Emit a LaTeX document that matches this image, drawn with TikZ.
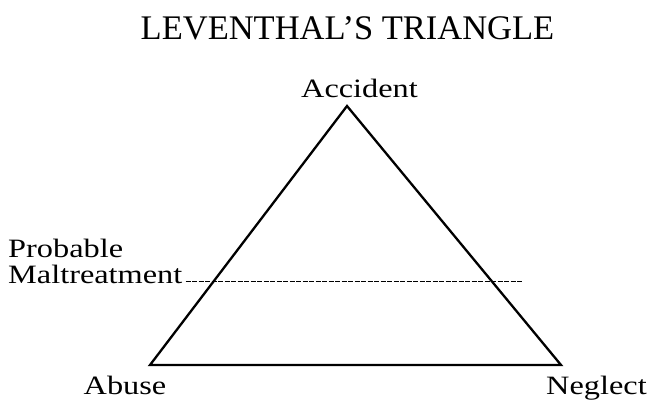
\documentclass[tikz,border=0pt]{standalone}
\usepackage{fontspec}
\setmainfont[FakeStretch=1.22]{Liberation Serif}
\newfontfamily\titlefont{Liberation Serif}
\begin{document}
\begin{tikzpicture}[x=1pt,y=-1pt,
  lbl/.style={inner sep=0pt,anchor=base,font=\fontsize{26.5}{29}\selectfont},
  edge/.style={line width=2.3pt,line join=miter},
  cut/.style={line width=1.6pt,dash pattern=on 5pt off 1.5pt}]
\useasboundingbox (0,0) rectangle (647,399);
\node[inner sep=0pt,anchor=base,font=\titlefont\fontsize{34.5}{40}\selectfont] (title) at (347.5,39) {LEVENTHAL’S TRIANGLE};
\coordinate (A) at (347,106);
\coordinate (B) at (150,365);
\coordinate (C) at (561,365);
\draw[edge] (A) -- (B) -- (C) -- cycle;
\node[lbl] (acc) at (359.5,97) {Accident};
\node[lbl] (abu) at (125,394) {Abuse};
\node[lbl] (neg) at (596.5,394) {Neglect};
\node[lbl,anchor=base west] (prob) at (8,257) {Probable};
\node[lbl,anchor=base west] (malt) at (8,283) {Maltreatment};
\coordinate (d2) at (522,281);
\draw[cut] (malt.base east) ++(3,-1.5) coordinate (d1) -- (d1 -| d2);
\end{tikzpicture}
\end{document}
